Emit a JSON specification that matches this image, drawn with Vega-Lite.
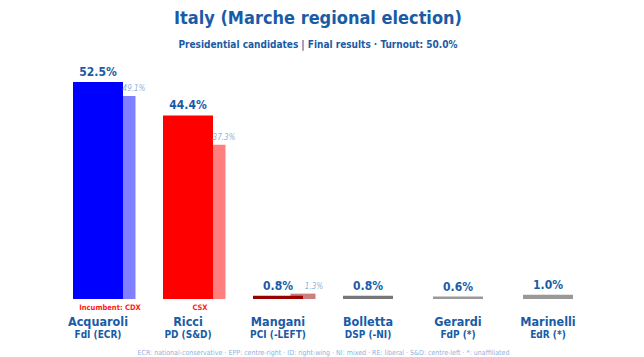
{
  "$schema": "https://vega.github.io/schema/vega-lite/v6.json",
  "autosize": "none",
  "width": 540,
  "height": 248,
  "padding": {"left": 53, "top": 51, "right": 51, "bottom": 58},
  "background": "white",
  "config": {"view": {"stroke": null}, "font": "DejaVu Sans Condensed, Roboto"},
  "title": {
    "text": "Italy (Marche regional election)",
    "subtitle": "Presidential candidates | Final results · Turnout: 50.0%",
    "anchor": "middle",
    "font": "DejaVu Sans Condensed, Roboto",
    "fontSize": 18,
    "fontWeight": "bold",
    "color": "#1a5ba6",
    "subtitleFont": "DejaVu Sans Condensed, Roboto",
    "subtitleFontSize": 10,
    "subtitleFontWeight": "bold",
    "subtitleColor": "#1a5ba6",
    "subtitlePadding": 12,
    "offset": 1,
    "dx": -5
  },
  "data": {
    "values": [
      {"name": "Acquaroli", "party": "FdI (ECR)", "v": 52.5, "prev": 49.1, "note": "Incumbent: CDX"},
      {"name": "Ricci", "party": "PD (S&D)", "v": 44.4, "prev": 37.3, "note": "CSX"},
      {"name": "Mangani", "party": "PCI (-LEFT)", "v": 0.8, "prev": 1.3, "note": null},
      {"name": "Bolletta", "party": "DSP (-NI)", "v": 0.8, "prev": null, "note": null},
      {"name": "Gerardi", "party": "FdP (*)", "v": 0.6, "prev": null, "note": null},
      {"name": "Marinelli", "party": "EdR (*)", "v": 1.0, "prev": null, "note": null}
    ]
  },
  "transform": [
    {"calculate": "format(datum.v, '.1f') + '%'", "as": "vlab"},
    {"calculate": "datum.prev == null ? '' : format(datum.prev, '.1f') + '%'", "as": "plab"}
  ],
  "encoding": {
    "x": {
      "field": "name",
      "type": "nominal",
      "sort": null,
      "scale": {"paddingInner": 0, "paddingOuter": 0},
      "axis": {
        "labels": false,
        "ticks": false,
        "domain": false,
        "title": "ECR: national-conservative · EPP: centre-right · ID: right-wing · NI: mixed · RE: liberal · S&D: centre-left · *: unaffiliated",
        "titleFont": "DejaVu Sans Condensed, Roboto",
        "titleFontSize": 7,
        "titleFontWeight": "normal",
        "titleColor": "#8fb3dc",
        "titlePadding": 49
      }
    }
  },
  "layer": [
    {
      "transform": [{"filter": "datum.prev != null"}],
      "mark": {"type": "bar", "width": 25, "xOffset": 25, "opacity": 0.5},
      "encoding": {
        "y": {"field": "prev", "type": "quantitative", "scale": {"domain": [0, 60]}, "axis": null},
        "color": {
          "field": "name", "type": "nominal", "legend": null,
          "scale": {
            "domain": ["Acquaroli", "Ricci", "Mangani", "Bolletta", "Gerardi", "Marinelli"],
            "range": ["#0000ff", "#ff0000", "#990000", "#777777", "#999999", "#999999"]
          }
        }
      }
    },
    {
      "mark": {"type": "bar", "width": 50},
      "encoding": {
        "y": {"field": "v", "type": "quantitative", "scale": {"domain": [0, 60]}, "axis": null},
        "color": {"field": "name", "type": "nominal", "legend": null}
      }
    },
    {
      "mark": {"type": "text", "dy": -3, "fontSize": 12, "fontWeight": "bold", "color": "#1a5ba6", "baseline": "bottom"},
      "encoding": {
        "y": {"field": "v", "type": "quantitative"},
        "text": {"field": "vlab"}
      }
    },
    {
      "transform": [{"filter": "datum.prev != null"}],
      "mark": {"type": "text", "xOffset": 36, "dy": -3, "fontSize": 8, "fontStyle": "italic", "color": "#8fb3dc", "baseline": "bottom"},
      "encoding": {
        "y": {"field": "prev", "type": "quantitative"},
        "text": {"field": "plab"}
      }
    },
    {
      "transform": [{"filter": "datum.note != null"}],
      "mark": {"type": "text", "xOffset": 12, "dy": 9, "fontSize": 7.5, "fontWeight": "bold", "color": "#ff2020"},
      "encoding": {
        "y": {"datum": 0, "type": "quantitative"},
        "text": {"field": "note"}
      }
    },
    {
      "mark": {"type": "text", "dy": 23, "fontSize": 12.5, "fontWeight": "bold", "color": "#1a5ba6"},
      "encoding": {
        "y": {"datum": 0, "type": "quantitative"},
        "text": {"field": "name"}
      }
    },
    {
      "mark": {"type": "text", "dy": 35.5, "fontSize": 10, "fontWeight": "bold", "color": "#1a5ba6"},
      "encoding": {
        "y": {"datum": 0, "type": "quantitative"},
        "text": {"field": "party"}
      }
    }
  ]
}
